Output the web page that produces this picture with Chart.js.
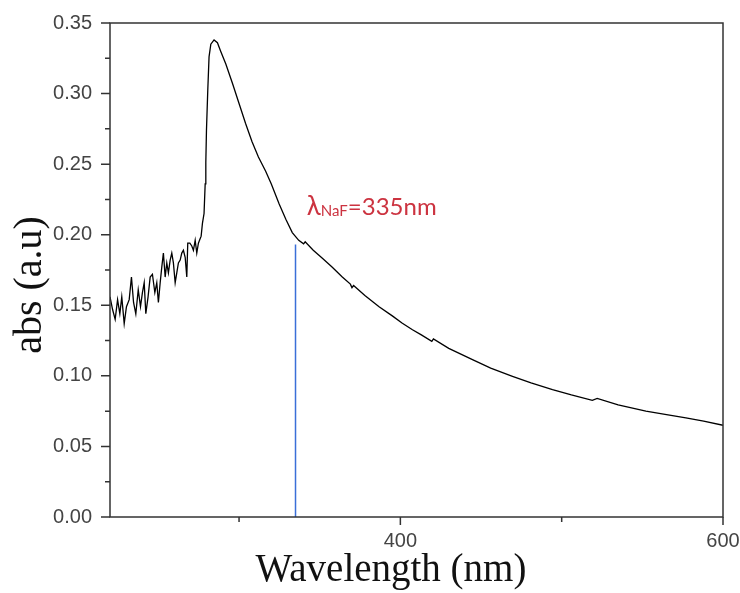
<!DOCTYPE html>
<html>
<head>
<meta charset="utf-8">
<script src="https://cdn.jsdelivr.net/npm/chart.js@4/dist/chart.umd.min.js"></script>
<style>
  html,body{margin:0;padding:0;background:#fff;}
  canvas{display:block;}
</style>
</head>
<body>
<canvas id="c" width="740" height="593"></canvas>
<script>
// wavelength (nm) and absorbance
const wavelength = [
  220, 221.6, 223.2, 224.7, 226.1, 227.3, 228.8, 230.2, 231.9, 233.3,
  234.6, 236.0, 237.5, 238.9, 240.1, 241.2, 242.2, 243.6, 244.9, 246.3,
  247.8, 249.0, 250.0, 251.1, 252.1, 253.1, 254.2, 255.2, 256.2, 257.3,
  258.3, 259.3, 260.4, 261.4, 262.4, 263.5, 264.5, 265.5, 266.6, 267.6,
  268.2, 269.5, 270.7, 271.7, 272.8, 273.8, 274.8, 275.8, 276.5, 277.3,
  278.3, 279.0, 279.4, 279.8, 280.6, 281.4, 282.5, 284.5, 286.6, 288.6,
  291.8, 296, 300, 304, 308, 312, 316.5, 320, 324.8, 329,
  333, 337, 340, 341, 346, 352, 357.8, 364, 369, 370,
  371, 378, 386.8, 395, 401, 407.5, 413, 419.5, 420.5, 430,
  444.7, 456, 469.5, 481, 494.3, 506, 519, 522, 535, 552.2,
  565, 577, 588, 600
];
const absorbance = [
  0.156, 0.147, 0.140, 0.154, 0.144, 0.156, 0.137, 0.149, 0.154, 0.170,
  0.152, 0.144, 0.161, 0.149, 0.159, 0.166, 0.144, 0.156, 0.170, 0.172,
  0.159, 0.166, 0.152, 0.166, 0.177, 0.187, 0.170, 0.180, 0.173, 0.182,
  0.187, 0.180, 0.166, 0.173, 0.180, 0.182, 0.187, 0.189, 0.184, 0.170,
  0.194, 0.194, 0.192, 0.189, 0.196, 0.187, 0.194, 0.197, 0.199, 0.208,
  0.215, 0.236, 0.251, 0.274, 0.302, 0.326, 0.335, 0.338, 0.336, 0.330,
  0.321, 0.307, 0.293, 0.279, 0.266, 0.255, 0.245, 0.236, 0.222, 0.211,
  0.2015, 0.196, 0.1935, 0.195, 0.189, 0.183, 0.177, 0.170, 0.165, 0.1625,
  0.164, 0.157, 0.149, 0.1425, 0.1375, 0.1327, 0.129, 0.1245, 0.1262, 0.1195,
  0.1115, 0.1055, 0.0997, 0.095, 0.0903, 0.0865, 0.0827, 0.0840, 0.0795, 0.0750,
  0.0725, 0.0703, 0.068, 0.065
];

// marker line at lambda = 335 nm
const markerX = [335, 335];
const markerY = [0, 0.193];

const xMajorTicks = [400, 600];
const xMinorTicks = [300, 500];
const yMajorTicks = [0, 0.05, 0.10, 0.15, 0.20, 0.25, 0.30, 0.35];
const yMinorTicks = [0.025, 0.075, 0.125, 0.175, 0.225, 0.275, 0.325];

const xTitle = 'Wavelength (nm)';
const yTitle = 'abs (a.u)';
const labelPos = {x: 342, y: 0.214};

const AXIS = '#333';
const SERIF = '"Liberation Serif", "Times New Roman", serif';
const SANS = '"Lato", "Liberation Sans", sans-serif';

const framePlugin = {
  id: 'frame',
  afterDatasetsDraw(chart){
    const {ctx, chartArea: a, scales: {x, y}} = chart;
    ctx.save();
    ctx.strokeStyle = AXIS;
    ctx.lineWidth = 1.5;
    ctx.strokeRect(a.left, a.top, a.right - a.left, a.bottom - a.top);
    ctx.beginPath();
    xMajorTicks.forEach(v => { const px = x.getPixelForValue(v); ctx.moveTo(px, a.bottom); ctx.lineTo(px, a.bottom + 8); });
    xMinorTicks.forEach(v => { const px = x.getPixelForValue(v); ctx.moveTo(px, a.bottom); ctx.lineTo(px, a.bottom + 5); });
    yMajorTicks.forEach(v => { const py = y.getPixelForValue(v); ctx.moveTo(a.left, py); ctx.lineTo(a.left - 9, py); });
    yMinorTicks.forEach(v => { const py = y.getPixelForValue(v); ctx.moveTo(a.left, py); ctx.lineTo(a.left - 5, py); });
    ctx.stroke();

    // axis titles
    ctx.fillStyle = '#111';
    ctx.textAlign = 'center';
    ctx.textBaseline = 'alphabetic';
    ctx.font = '39px ' + SERIF;
    ctx.fillText(xTitle, a.left + 281, a.bottom + 64);
    ctx.save();
    ctx.translate(a.left - 80, (a.top + a.bottom) / 2 + 15);
    ctx.rotate(-Math.PI / 2);
    ctx.textBaseline = 'middle';
    ctx.font = '40px ' + SERIF;
    ctx.fillText(yTitle, 0, 0);
    ctx.restore();

    // λNaF=335nm
    let px = x.getPixelForValue(labelPos.x);
    const py = y.getPixelForValue(labelPos.y);
    ctx.textAlign = 'left';
    ctx.fillStyle = '#cc3340';
    ctx.font = '26px ' + SANS;
    ctx.fillText('λ', px, py);
    px += ctx.measureText('λ').width;
    ctx.font = '15px ' + SANS;
    ctx.fillText('NaF', px, py + 1);
    px += ctx.measureText('NaF').width;
    ctx.font = '24px ' + SANS;
    ctx.fillText('=335nm', px, py);
    ctx.restore();
  }
};

new Chart(document.getElementById('c'), {
  type: 'line',
  data: {
    datasets: [
      {
        data: wavelength.map((w, i) => ({x: w, y: absorbance[i]})),
        borderColor: '#000',
        borderWidth: 1.3,
        pointRadius: 0,
        tension: 0
      },
      {
        data: markerX.map((w, i) => ({x: w, y: markerY[i]})),
        borderColor: '#3a6fd8',
        borderWidth: 1.5,
        pointRadius: 0
      }
    ]
  },
  options: {
    responsive: false,
    animation: false,
    layout: {padding: {top: 23, right: 17, left: 0, bottom: 0}},
    plugins: {legend: {display: false}, tooltip: {enabled: false}},
    scales: {
      x: {
        type: 'linear',
        min: 220, max: 600,
        grid: {display: false, drawTicks: false},
        border: {display: false},
        afterBuildTicks: s => { s.ticks = xMinorTicks.concat(xMajorTicks).sort((a, b) => a - b).map(v => ({value: v})); },
        afterFit: s => { s.height = 76; s.paddingLeft = 0; s.paddingRight = 0; },
        ticks: {
          padding: 12,
          color: '#444',
          font: {family: '"Liberation Sans", Arial, sans-serif', size: 20},
          callback: v => xMajorTicks.includes(v) ? String(v) : ''
        }
      },
      y: {
        min: 0, max: 0.35,
        grid: {display: false, drawTicks: false},
        border: {display: false},
        afterBuildTicks: s => { s.ticks = yMajorTicks.map(v => ({value: v})); },
        afterFit: s => { s.width = 110; s.paddingTop = 0; s.paddingBottom = 0; },
        ticks: {
          padding: 18,
          color: '#444',
          font: {family: '"Liberation Sans", Arial, sans-serif', size: 20},
          callback: v => Number(v).toFixed(2)
        }
      }
    }
  },
  plugins: [framePlugin]
});
</script>
</body>
</html>
